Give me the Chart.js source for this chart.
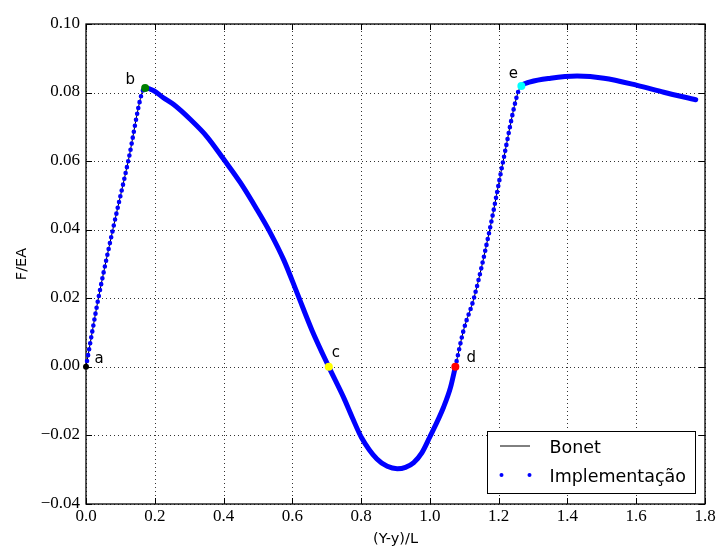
<!DOCTYPE html>
<html>
<head>
<meta charset="utf-8">
<script src="https://cdn.jsdelivr.net/npm/chart.js@4.4.0/dist/chart.umd.min.js"></script>
<style>
  html, body { margin: 0; padding: 0; background: #fff; }
  #wrap { width: 716px; height: 549px; }
</style>
</head>
<body>
<div id="wrap"><canvas id="chart" width="716" height="549"></canvas></div>
<script>
// (Y-y)/L and F/EA along the loading path
const displacement = [
    0, 0.036, 0.078, 0.124, 0.163, 0.172,
    0.196, 0.225, 0.255, 0.303, 0.352, 0.400, 0.449, 0.497, 0.536, 0.575, 0.614, 0.657,
    0.706, 0.749, 0.774, 0.801, 0.846, 0.876, 0.905, 0.929, 0.953, 0.977, 0.999, 1.040, 1.060,
    1.074, 1.098, 1.128, 1.174, 1.213, 1.256, 1.266,
    1.292, 1.351, 1.428, 1.506, 1.603, 1.680, 1.773
];
const force = [
    0, 0.0200, 0.0400, 0.0606, 0.0800, 0.0813,
    0.0806, 0.0785, 0.0765, 0.0722, 0.0671, 0.0606, 0.0537, 0.0459, 0.0391, 0.0312, 0.0215, 0.0107,
    0, -0.0089, -0.0147, -0.0206, -0.0269, -0.0290, -0.0297, -0.0293, -0.0279, -0.0250, -0.0206, -0.0117, -0.0060,
    0, 0.0107, 0.0200, 0.0400, 0.0600, 0.0800, 0.0819,
    0.0831, 0.0842, 0.0848, 0.0842, 0.0821, 0.0801, 0.0779
];

// pontos notáveis
const markerNames = ["a", "b", "c", "d", "e"];
const markerX = [0, 0.172, 0.706, 1.074, 1.266];
const markerY = [0, 0.0813, 0, 0, 0.0819];
const markerColors = ["#000000", "#007f00", "#ffff00", "#ff0000", "#00ffff"];

const xTicks = { min: 0, max: 1.8, step: 0.2 };
const yTicks = { min: -0.04, max: 0.10, step: 0.02 };

const seriesNames = ["Bonet", "Implementação"];

// label offsets in px (centre x, baseline y) relative to each marker
const labelOffset = [[13, -3.5], [-15, -4.3], [7, -10], [16, -4.4], [-8, -8.4]];
const markerRadius = [3, 4, 4, 4, 4];

const curve = displacement.map((x, i) => ({ x, y: force[i] }));
const markers = markerX.map((x, i) => ({ x, y: markerY[i] }));

// elastic branches (a-b and d-e) are drawn as separate dots
const bX = markerX[1], dX = markerX[3], eX = markerX[4];
function isElastic(ctx) {
    const x0 = ctx.p0.parsed.x, x1 = ctx.p1.parsed.x;
    return x1 <= bX + 1e-9 || (x0 >= dX - 1e-9 && x1 <= eX + 1e-9);
}

const SERIF = "'Liberation Serif'";
const SANS = "'DejaVu Sans'";

function fmtY(v) {
    if (Math.abs(v) < 1e-9) return "0.00";
    return (v < 0 ? "\u2212" : "") + Math.abs(v).toFixed(2);
}

const frame = {
    id: "frame",
    beforeDatasetsDraw(chart) {
        const { ctx, chartArea: a, scales: { x, y } } = chart;
        ctx.save();

        // grade pontilhada
        ctx.strokeStyle = "rgba(0,0,0,0.8)";
        ctx.lineWidth = 1;
        ctx.setLineDash([1, 3]);
        x.ticks.forEach(t => {
            const px = Math.round(x.getPixelForValue(t.value)) + 0.5;
            ctx.beginPath(); ctx.moveTo(px, a.bottom); ctx.lineTo(px, a.top); ctx.stroke();
        });
        y.ticks.forEach(t => {
            const py = Math.round(y.getPixelForValue(t.value)) + 0.5;
            ctx.beginPath(); ctx.moveTo(a.left, py); ctx.lineTo(a.right, py); ctx.stroke();
        });
        ctx.setLineDash([]);

        // inward ticks on all four sides
        const tl = 6;
        ctx.strokeStyle = "#000";
        x.ticks.forEach(t => {
            const px = Math.round(x.getPixelForValue(t.value)) + 0.5;
            ctx.beginPath();
            ctx.moveTo(px, a.bottom); ctx.lineTo(px, a.bottom - tl);
            ctx.moveTo(px, a.top); ctx.lineTo(px, a.top + tl);
            ctx.stroke();
        });
        y.ticks.forEach(t => {
            const py = Math.round(y.getPixelForValue(t.value)) + 0.5;
            ctx.beginPath();
            ctx.moveTo(a.left, py); ctx.lineTo(a.left + tl, py);
            ctx.moveTo(a.right, py); ctx.lineTo(a.right - tl, py);
            ctx.stroke();
        });

        ctx.lineWidth = 1.3;
        ctx.strokeRect(a.left, a.top, a.right - a.left, a.bottom - a.top);

        // tick labels in a serif face
        ctx.fillStyle = "#000";
        ctx.font = "17px " + SERIF;
        ctx.textBaseline = "alphabetic";
        ctx.textAlign = "center";
        x.ticks.forEach(t => {
            ctx.fillText(t.value.toFixed(1), x.getPixelForValue(t.value), a.bottom + 16.5);
        });
        ctx.textAlign = "right";
        y.ticks.forEach(t => {
            ctx.fillText(fmtY(t.value), a.left - 6, y.getPixelForValue(t.value) + 3.5);
        });
        ctx.restore();
    },
    afterDatasetsDraw(chart) {
        const { ctx, scales: { x, y } } = chart;
        ctx.save();
        ctx.fillStyle = "#000";
        ctx.font = "15px " + SANS;
        ctx.textAlign = "center";
        ctx.textBaseline = "alphabetic";
        markerNames.forEach((name, i) => {
            const px = x.getPixelForValue(markerX[i]) + labelOffset[i][0];
            const py = y.getPixelForValue(markerY[i]) + labelOffset[i][1];
            ctx.fillText(name, px, py);
        });
        ctx.restore();
    },
    afterDraw(chart) {
        const { ctx } = chart;
        ctx.save();
        const bx = 487.5, by = 431.5, bw = 208, bh = 62;
        ctx.fillStyle = "#fff";
        ctx.fillRect(bx, by, bw, bh);
        ctx.strokeStyle = "#000";
        ctx.lineWidth = 1;
        ctx.strokeRect(bx, by, bw, bh);

        // Bonet
        ctx.beginPath();
        ctx.moveTo(bx + 12.5, by + 14.5);
        ctx.lineTo(bx + 42.5, by + 14.5);
        ctx.stroke();
        // Implementação
        ctx.fillStyle = "#0000ff";
        [bx + 14, bx + 42].forEach(cx => {
            ctx.beginPath();
            ctx.arc(cx, by + 43.5, 2, 0, Math.PI * 2);
            ctx.fill();
        });

        ctx.fillStyle = "#000";
        ctx.font = "17.5px " + SANS;
        ctx.textAlign = "left";
        ctx.textBaseline = "alphabetic";
        ctx.fillText(seriesNames[0], bx + 62, by + 21.5);
        ctx.fillText(seriesNames[1], bx + 62, by + 50.5);
        ctx.restore();
    }
};

new Chart(document.getElementById("chart"), {
    type: "scatter",
    data: {
        datasets: [
            {
                label: seriesNames[1],
                data: curve,
                showLine: true,
                borderColor: "#0000ff",
                borderWidth: 5,
                borderJoinStyle: "round",
                borderCapStyle: "round",
                pointRadius: 0,
                cubicInterpolationMode: "monotone",
                clip: false,
                order: 1,
                segment: {
                    borderDash: c => isElastic(c) ? [0, 6] : undefined,
                    borderWidth: c => isElastic(c) ? 4.6 : undefined
                }
            },
            {
                label: seriesNames[0],
                data: curve,
                showLine: true,
                borderColor: "#000000",
                borderWidth: 1,
                pointRadius: 0,
                cubicInterpolationMode: "monotone",
                clip: false,
                order: 2
            },
            {
                label: "pontos",
                data: markers,
                showLine: false,
                pointRadius: markerRadius,
                pointBackgroundColor: markerColors,
                pointBorderColor: markerColors,
                pointBorderWidth: 0,
                clip: false,
                order: 0
            }
        ]
    },
    options: {
        responsive: false,
        animation: false,
        devicePixelRatio: 1,
        layout: { padding: { top: 24, right: 11, left: 0, bottom: 0 } },
        plugins: { legend: { display: false }, tooltip: { enabled: false } },
        scales: {
            x: {
                type: "linear",
                min: xTicks.min,
                max: xTicks.max,
                grid: { display: false },
                border: { display: false },
                ticks: { stepSize: xTicks.step, display: false },
                title: {
                    display: true,
                    text: "(Y-y)/L",
                    color: "#000",
                    font: { family: SANS, size: 14.5 },
                    padding: { top: 0, bottom: 1 }
                },
                afterFit: s => { s.height = 45; }
            },
            y: {
                type: "linear",
                min: yTicks.min,
                max: yTicks.max,
                grid: { display: false },
                border: { display: false },
                ticks: { stepSize: yTicks.step, display: false },
                title: {
                    display: true,
                    text: "F/EA",
                    color: "#000",
                    font: { family: SANS, size: 14.5 },
                    padding: { top: 14, bottom: 0 }
                },
                afterFit: s => { s.width = 86; }
            }
        }
    },
    plugins: [frame]
});
</script>
</body>
</html>
